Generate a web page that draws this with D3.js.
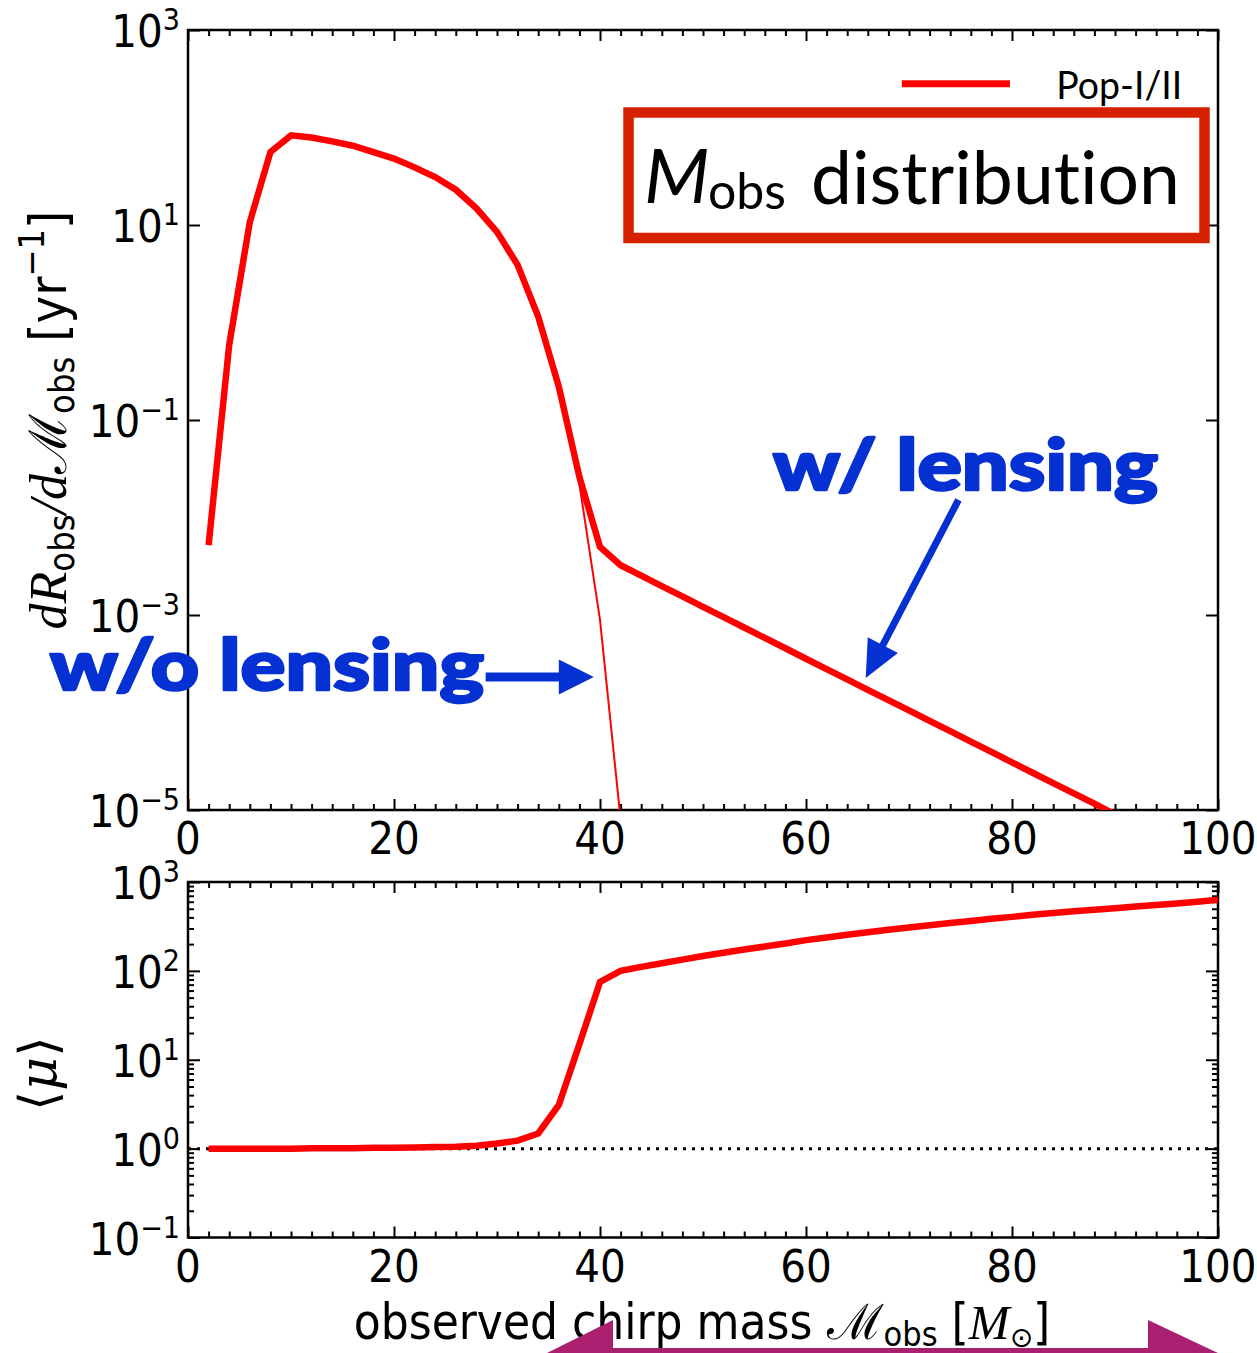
<!DOCTYPE html>
<html>
<head>
<meta charset="utf-8">
<script src="https://cdn.jsdelivr.net/npm/d3@7"></script>
<style>
  html, body { margin: 0; padding: 0; background: #fff; }
  svg { display: block; }
  .num { font-family: "Liberation Sans Narrow", "DejaVu Sans Condensed", "Liberation Sans", sans-serif; fill: #000; }
  .mi { font-family: "Liberation Serif", "DejaVu Serif", serif; font-style: italic; }
  .gill { font-family: Lato, "Open Sans", sans-serif; font-variant-ligatures: none; }
</style>
</head>
<body>
<svg id="chart" width="1257" height="1353"></svg>
<script>
// Observed chirp mass grid [M_sun]
const massGrid = [2, 4, 6, 8, 10, 12, 14, 16, 18, 20, 22, 24, 26, 28, 30, 32, 34, 36, 38, 40,
  42, 44, 46, 48, 50, 52, 54, 56, 58, 60, 62, 64, 66, 68, 70, 72, 74, 76, 78, 80,
  82, 84, 86, 88, 90, 92, 94, 96, 98, 100];

// dR_obs/dM_obs [1/yr], including lensing magnification
const rateLensed = [5.2e-3, 0.59, 10.7, 56, 83, 79, 72, 65, 56, 48, 39, 31, 23, 14.8, 8.5, 3.9, 1.15, 0.22, 0.026, 5.0e-3,
  3.24e-3, 2.53e-3, 1.98e-3, 1.55e-3, 1.21e-3, 9.5e-4, 7.44e-4, 5.82e-4, 4.56e-4, 3.56e-4,
  2.79e-4, 2.19e-4, 1.71e-4, 1.34e-4, 1.05e-4, 8.2e-5, 6.43e-5, 5.02e-5, 3.94e-5, 3.08e-5,
  2.41e-5, 1.89e-5, 1.48e-5, 1.16e-5, 9.0e-6, 7.1e-6, 5.5e-6, 4.3e-6, 3.4e-6, 2.6e-6];

// Same rate without lensing (falls off the plot just above 40 M_sun)
const massGridUnlensed = [2, 4, 6, 8, 10, 12, 14, 16, 18, 20, 22, 24, 26, 28, 30, 32, 34, 36, 38, 40, 42];
const rateUnlensed = [5.2e-3, 0.59, 10.7, 56, 83, 79, 72, 65, 56, 48, 39, 31, 23, 14.8, 8.5, 3.9, 1.15, 0.22, 0.022, 8.9e-4, 8.0e-6];

// Mean magnification <mu> at each observed chirp mass
const meanMagnification = [1.00, 1.00, 1.00, 1.00, 1.00, 1.01, 1.01, 1.01, 1.02, 1.02, 1.03, 1.04, 1.05, 1.08, 1.14, 1.23, 1.48, 3.1, 15, 75,
  100, 111, 122, 134, 147, 160, 174, 188, 203, 222, 238, 255, 272, 290, 308, 326, 345, 364, 385, 405,
  428, 448, 468, 488, 508, 530, 552, 574, 600, 630];

const xTickValues = [0, 20, 40, 60, 80, 100];
const rateTickExponents = [3, 1, -1, -3, -5];
const muTickExponents = [3, 2, 1, 0, -1];

const seriesLabel = "Pop-I/II";
const RED = "#ff0000";
const BLUE = "#0530d2";
const BOXRED = "#d62000";

const svg = d3.select("#chart");

// ---- scales ----
const x = d3.scaleLinear([0, 100], [188, 1218]);
const yRate = d3.scaleLog([1e-5, 1e3], [810, 30]);
const yMu = d3.scaleLog([0.1, 1e3], [1237.5, 882]);

const defs = svg.append("defs");
function addClip(id, ys) {
  defs.append("clipPath").attr("id", id).append("rect")
    .attr("x", x(0)).attr("y", ys.range()[1])
    .attr("width", x(100) - x(0)).attr("height", ys.range()[0] - ys.range()[1]);
}
addClip("clipTop", yRate);
addClip("clipBot", yMu);

const minorX = d3.range(0, 101, 2).filter(v => v % 20 !== 0);

function styleAxis(g) {
  g.select(".domain").remove();
  g.selectAll(".tick line").attr("stroke", "#000").attr("stroke-width", 2);
  g.selectAll(".tick text").remove();
}

function drawFrameAndTicks(ys, majorY, minorY) {
  const top = ys.range()[1], bottom = ys.range()[0];
  const g = svg.append("g");
  // x ticks, bottom and top, pointing inward
  g.append("g").attr("transform", `translate(0,${bottom})`)
    .call(d3.axisBottom(x).tickValues(xTickValues).tickSize(-11).tickFormat("")).call(styleAxis);
  g.append("g").attr("transform", `translate(0,${bottom})`)
    .call(d3.axisBottom(x).tickValues(minorX).tickSize(-6).tickFormat("")).call(styleAxis);
  g.append("g").attr("transform", `translate(0,${top})`)
    .call(d3.axisTop(x).tickValues(xTickValues).tickSize(-11).tickFormat("")).call(styleAxis);
  g.append("g").attr("transform", `translate(0,${top})`)
    .call(d3.axisTop(x).tickValues(minorX).tickSize(-6).tickFormat("")).call(styleAxis);
  // y ticks, left and right
  g.append("g").attr("transform", `translate(${x(0)},0)`)
    .call(d3.axisLeft(ys).tickValues(majorY).tickSize(-12).tickFormat("")).call(styleAxis);
  g.append("g").attr("transform", `translate(${x(100)},0)`)
    .call(d3.axisRight(ys).tickValues(majorY).tickSize(-12).tickFormat("")).call(styleAxis);
  if (minorY.length) {
    g.append("g").attr("transform", `translate(${x(0)},0)`)
      .call(d3.axisLeft(ys).tickValues(minorY).tickSize(-6).tickFormat("")).call(styleAxis);
    g.append("g").attr("transform", `translate(${x(100)},0)`)
      .call(d3.axisRight(ys).tickValues(minorY).tickSize(-6).tickFormat("")).call(styleAxis);
  }
  // frame
  g.append("rect").attr("x", x(0)).attr("y", top)
    .attr("width", x(100) - x(0)).attr("height", bottom - top)
    .attr("fill", "none").attr("stroke", "#000").attr("stroke-width", 2.5);

  // x tick labels
  g.append("g").selectAll("text").data(xTickValues).join("text")
    .attr("class", "num").attr("font-size", 45)
    .attr("text-anchor", "middle")
    .attr("x", d => x(d)).attr("y", bottom + 44)
    .text(d => d);

  return g;
}

function powerLabels(g, ys, exps) {
  const t = g.append("g").selectAll("text").data(exps).join("text")
    .attr("class", "num").attr("text-anchor", "end")
    .attr("x", x(0) - 8).attr("y", d => ys(Math.pow(10, d)) + 17);
  t.append("tspan").attr("font-size", 45).text("10");
  t.append("tspan").attr("font-size", 30).attr("dy", -17)
    .text(d => d < 0 ? "\u2212" + Math.abs(d) : String(d));
}

// ---- top panel ----
const gTop = drawFrameAndTicks(yRate, rateTickExponents.map(e => Math.pow(10, e)), []);
powerLabels(gTop, yRate, rateTickExponents);

const lineRate = d3.line().x(d => x(d[0])).y(d => yRate(d[1]));
const plotTop = svg.append("g").attr("clip-path", "url(#clipTop)");
plotTop.append("path")
  .datum(d3.zip(massGridUnlensed, rateUnlensed))
  .attr("d", lineRate).attr("fill", "none").attr("stroke", RED).attr("stroke-width", 2);
plotTop.append("path")
  .datum(d3.zip(massGrid, rateLensed))
  .attr("d", lineRate).attr("fill", "none").attr("stroke", RED)
  .attr("stroke-width", 6.5).attr("stroke-linejoin", "miter");

// legend
svg.append("line")
  .attr("x1", x(69.3)).attr("x2", x(79.8))
  .attr("y1", yRate(Math.pow(10, 2.45))).attr("y2", yRate(Math.pow(10, 2.45)))
  .attr("stroke", RED).attr("stroke-width", 7);
svg.append("text").attr("class", "gill")
  .attr("x", x(84.3)).attr("y", yRate(Math.pow(10, 2.45)) + 15)
  .attr("font-size", 39).attr("textLength", 126).attr("lengthAdjust", "spacingAndGlyphs")
  .text(seriesLabel);

// title box
const box = svg.append("g");
box.append("rect")
  .attr("x", x(42.77)).attr("y", yRate(Math.pow(10, 2.154)))
  .attr("width", x(98.69) - x(42.77))
  .attr("height", yRate(Math.pow(10, 0.867)) - yRate(Math.pow(10, 2.154)))
  .attr("fill", "#fff").attr("stroke", BOXRED).attr("stroke-width", 10.5);
box.append("text").attr("class", "gill").attr("x", 644).attr("y", 203)
  .attr("font-size", 76).attr("font-style", "italic").text("M");
box.append("text").attr("class", "gill").attr("x", 708).attr("y", 209)
  .attr("font-size", 50).text("obs");
box.append("text").attr("class", "gill").attr("x", 811).attr("y", 204)
  .attr("font-size", 74).attr("textLength", 369).attr("lengthAdjust", "spacingAndGlyphs")
  .text("distribution");

// arrow helper (shaft + filled head)
function arrow(x1, y1, x2, y2, shaftW, headL, headHW) {
  const dx = x2 - x1, dy = y2 - y1, len = Math.hypot(dx, dy);
  const ux = dx / len, uy = dy / len, nx = -uy, ny = ux;
  const bx = x2 - ux * headL, by = y2 - uy * headL;
  svg.append("line").attr("x1", x1).attr("y1", y1).attr("x2", bx + ux * 2).attr("y2", by + uy * 2)
    .attr("stroke", BLUE).attr("stroke-width", shaftW);
  svg.append("path")
    .attr("d", `M${x2},${y2}L${bx + nx * headHW},${by + ny * headHW}L${bx - nx * headHW},${by - ny * headHW}Z`)
    .attr("fill", BLUE);
}

// annotations
function bigLabel(px, py, width, txt) {
  svg.append("text").attr("class", "gill").attr("font-weight", 900)
    .attr("font-size", 70).attr("fill", BLUE)
    .attr("stroke", BLUE).attr("stroke-width", 2.5).attr("stroke-linejoin", "round")
    .attr("x", px).attr("y", py)
    .attr("textLength", width).attr("lengthAdjust", "spacingAndGlyphs")
    .text(txt);
}
bigLabel(x(56.8), yRate(Math.pow(10, -1.718)), 385, "w/ lensing");
arrow(x(74.8), yRate(Math.pow(10, -1.82)), x(65.8), yRate(Math.pow(10, -3.646)), 7, 37, 17);

bigLabel(50, yRate(Math.pow(10, -3.77)), 434, "w/o lensing");
arrow(x(28.9), yRate(Math.pow(10, -3.636)), x(39.4), yRate(Math.pow(10, -3.636)), 9, 35, 17.5);

// y label, top panel
const yl1 = svg.append("text").attr("class", "num").attr("font-size", 52)
  .attr("text-anchor", "middle")
  .attr("transform", `translate(66,${(yRate.range()[0] + yRate.range()[1]) / 2}) rotate(-90)`);
yl1.append("tspan").attr("class", "mi").text("dR");
yl1.append("tspan").attr("font-size", 36).attr("dy", 8).text("obs");
yl1.append("tspan").attr("class", "mi").attr("dy", -8).text("/d");
yl1.append("tspan").attr("font-family", "DejaVu Serif, serif").text("\u2133");
yl1.append("tspan").attr("font-size", 36).attr("dy", 8).text("obs");
yl1.append("tspan").attr("dy", -8).text(" [yr");
yl1.append("tspan").attr("font-size", 36).attr("dy", -22).text("\u22121");
yl1.append("tspan").attr("dy", 22).text("]");

// ---- bottom panel ----
const muMajor = muTickExponents.map(e => Math.pow(10, e));
const muMinor = [];
for (let e = -1; e < 3; e++) for (let k = 2; k <= 9; k++) muMinor.push(k * Math.pow(10, e));
const gBot = drawFrameAndTicks(yMu, muMajor, muMinor);
powerLabels(gBot, yMu, muTickExponents);

const plotBot = svg.append("g").attr("clip-path", "url(#clipBot)");
plotBot.append("line")
  .attr("x1", x(0)).attr("x2", x(100)).attr("y1", yMu(1)).attr("y2", yMu(1))
  .attr("stroke", "#000").attr("stroke-width", 3).attr("stroke-dasharray", "3,6");
plotBot.append("path")
  .datum(d3.zip(massGrid, meanMagnification))
  .attr("d", d3.line().x(d => x(d[0])).y(d => yMu(d[1])))
  .attr("fill", "none").attr("stroke", RED).attr("stroke-width", 6.5);

// y label, bottom panel
svg.append("text").attr("font-family", "DejaVu Serif, serif").attr("font-size", 52)
  .attr("text-anchor", "middle")
  .attr("transform", `translate(56,${(yMu.range()[0] + yMu.range()[1]) / 2 + 14}) rotate(-90)`)
  .call(t => {
    t.append("tspan").text("\u27e8");
    t.append("tspan").attr("font-style", "italic").text("\u03bc");
    t.append("tspan").text("\u27e9");
  });

// x label
const xl = svg.append("text").attr("class", "num").attr("font-size", 49)
  .attr("text-anchor", "middle").attr("x", 702).attr("y", 1339);
xl.append("tspan").text("observed chirp mass ");
xl.append("tspan").attr("font-family", "DejaVu Serif, serif").text("\u2133");
xl.append("tspan").attr("font-size", 34).attr("dy", 7).text("obs");
xl.append("tspan").attr("dy", -7).text(" [");
xl.append("tspan").attr("class", "mi").text("M");
xl.append("tspan").attr("font-family", "DejaVu Sans, sans-serif").attr("font-size", 28).attr("dy", 8).text("\u2299");
xl.append("tspan").attr("dy", -8).text("]");

// slide decoration along the bottom edge
const deco = svg.append("g").attr("fill", "#a8206f");
deco.append("path").attr("d", "M613,1320L613,1353L547,1353Z");
deco.append("path").attr("d", "M1148,1320L1148,1353L1218,1353Z");
deco.append("rect").attr("x", 610).attr("y", 1348).attr("width", 542).attr("height", 5);
</script>
</body>
</html>
